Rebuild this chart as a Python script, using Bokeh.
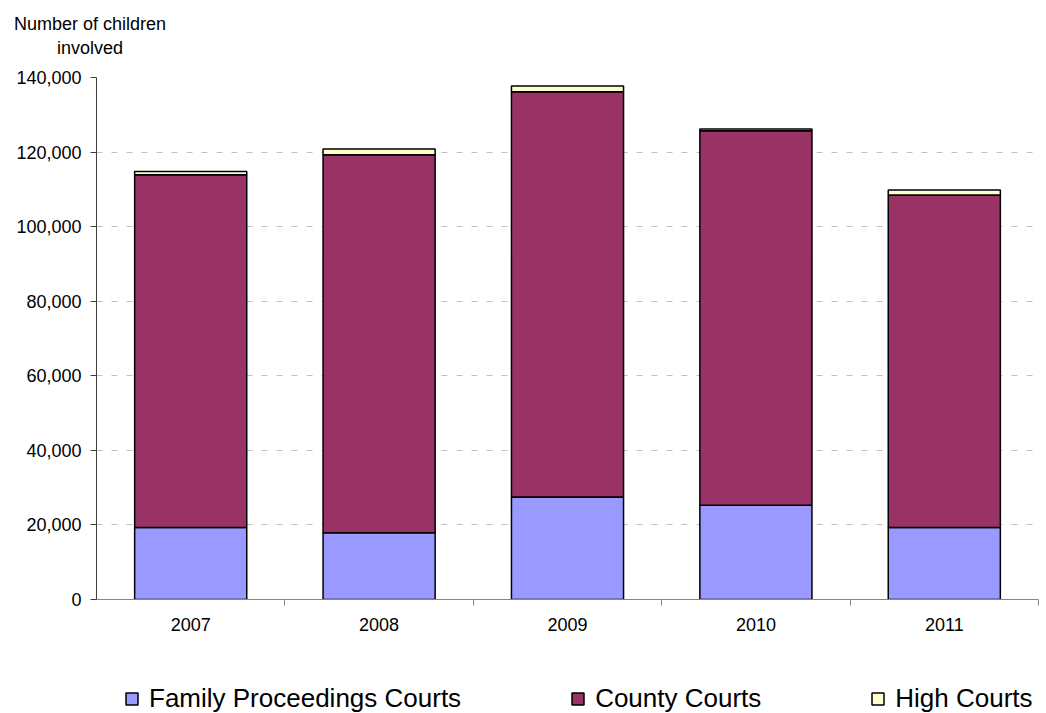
from bokeh.plotting import figure
from bokeh.layouts import column
from bokeh.models import (ColumnDataSource, Range1d, FixedTicker, NumeralTickFormatter,
                          Legend, Div)
from bokeh.embed import file_html
from bokeh.resources import INLINE

# ---- data ----
years = [2007, 2008, 2009, 2010, 2011]
year_labels = ["2007", "2008", "2009", "2010", "2011"]
family_proceedings = [19300, 17900, 27500, 25300, 19300]
county = [94600, 101400, 108700, 100400, 89200]
high = [900, 1500, 1500, 500, 1300]
series_keys = ["fpc", "county", "high"]
series_names = ["Family Proceedings Courts", "County Courts", "High Courts"]
series_colors = ["#9999FF", "#993366", "#FFFFCC"]
y_ticks = [0, 20000, 40000, 60000, 80000, 100000, 120000, 140000]
y_title_lines = ["Number of children", "involved"]

FONT = "Liberation Sans"
W = 1046

source = ColumnDataSource(data=dict(year=years, fpc=family_proceedings,
                                    county=county, high=high))

# ---- top strip: y axis title ----
top = Div(text="<br>".join(y_title_lines), width=180, height=62,
          styles={"font-family": FONT, "font-size": "18px", "line-height": "24px",
                  "text-align": "center", "color": "black", "padding-top": "12px",
                  "box-sizing": "border-box", "margin": "0"})

# ---- main chart ----
p = figure(width=W, height=578, output_backend="svg", toolbar_location=None,
           x_range=Range1d(years[0] - 0.5, years[-1] + 0.5),
           y_range=Range1d(y_ticks[0], y_ticks[-1]),
           min_border_left=96, min_border_right=8, min_border_top=15, min_border_bottom=41)
p.outline_line_color = None

renderers = p.vbar_stack(series_keys, x="year", width=0.595, source=source,
                         fill_color=series_colors, line_color="black", line_width=1.5)

p.xgrid.grid_line_color = None
p.ygrid.grid_line_color = "#C0C0C0"
p.ygrid.grid_line_dash = "6 9"
p.ygrid.grid_line_width = 1
p.ygrid.ticker = FixedTicker(ticks=y_ticks)

yax = p.yaxis[0]
yax.ticker = FixedTicker(ticks=y_ticks)
yax.formatter = NumeralTickFormatter(format="0,0")
yax.axis_line_color = "#404040"
yax.major_tick_line_color = "#404040"
yax.major_tick_out = 6
yax.major_tick_in = 0
yax.minor_tick_out = 0
yax.minor_tick_in = 0
yax.major_label_text_font = FONT
yax.major_label_text_font_size = "18px"
yax.major_label_text_color = "black"
yax.major_label_standoff = 9

xax = p.xaxis[0]
xax.ticker = FixedTicker(ticks=years, minor_ticks=[y + 0.5 for y in years])
xax.major_label_overrides = {y: lab for y, lab in zip(years, year_labels)}
xax.axis_line_color = "#868686"
xax.major_tick_out = 0
xax.major_tick_in = 0
xax.minor_tick_line_color = "#868686"
xax.minor_tick_out = 6
xax.minor_tick_in = 0
xax.major_label_text_font = FONT
xax.major_label_text_font_size = "18px"
xax.major_label_text_color = "black"
xax.major_label_standoff = 12

# ---- bottom strip: legend (hidden copies of the series supply the legend swatches) ----
bottom = figure(width=W, height=73, output_backend="svg", toolbar_location=None,
                x_range=Range1d(years[0] - 0.5, years[-1] + 0.5),
                y_range=Range1d(y_ticks[0], y_ticks[-1]),
                x_axis_location=None, y_axis_location=None, min_border=0)
bottom.outline_line_color = None
bottom.grid.grid_line_color = None
proxies = [bottom.vbar(x="year", top=k, width=0.595, source=source, fill_color=c,
                       line_color="black", line_width=1.5, visible=False)
           for k, c in zip(series_keys, series_colors)]
legend = Legend(items=[(n, [r]) for n, r in zip(series_names, proxies)],
                orientation="horizontal", location=(28, -1),
                label_text_font=FONT, label_text_font_size="26px", label_text_color="black",
                glyph_width=15, glyph_height=15, label_standoff=10, spacing=109,
                padding=0, margin=0, border_line_alpha=0, background_fill_alpha=0,
                inactive_fill_alpha=0)
bottom.add_layout(legend, "center")

layout = column(top, p, bottom, spacing=0)
open("out.html", "w").write(file_html(layout, INLINE))
